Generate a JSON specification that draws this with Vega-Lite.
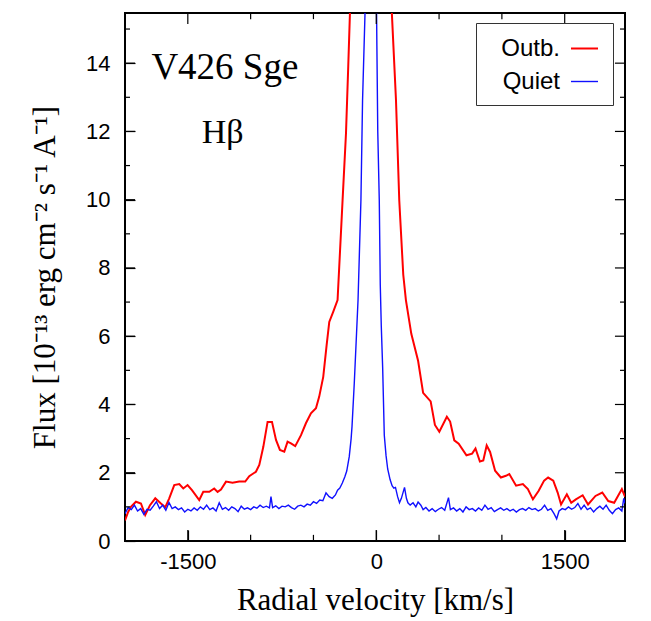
{
  "$schema": "https://vega.github.io/schema/vega-lite/v6.json",
  "width": 500,
  "height": 528,
  "autosize": "none",
  "padding": {"left": 125, "top": 13, "right": 26, "bottom": 80},
  "background": "white",
  "config": {
    "view": {"stroke": "black", "strokeWidth": 2, "fill": null},
    "axis": {"domain": false, "grid": false, "zindex": 1, "tickColor": "black", "tickWidth": 1.2, "labelColor": "black", "titleColor": "black"}
  },
  "datasets": {
    "spec": [
      {"s": "Outb.", "v": -2000, "f": 0.60}, {"s": "Outb.", "v": -1975, "f": 0.85}, {"s": "Outb.", "v": -1953, "f": 1.00},
      {"s": "Outb.", "v": -1913, "f": 1.15}, {"s": "Outb.", "v": -1873, "f": 1.10}, {"s": "Outb.", "v": -1839, "f": 0.76},
      {"s": "Outb.", "v": -1801, "f": 1.05}, {"s": "Outb.", "v": -1759, "f": 1.25}, {"s": "Outb.", "v": -1714, "f": 1.10},
      {"s": "Outb.", "v": -1679, "f": 0.99}, {"s": "Outb.", "v": -1648, "f": 1.25}, {"s": "Outb.", "v": -1608, "f": 1.64},
      {"s": "Outb.", "v": -1568, "f": 1.67}, {"s": "Outb.", "v": -1536, "f": 1.54}, {"s": "Outb.", "v": -1502, "f": 1.64},
      {"s": "Outb.", "v": -1467, "f": 1.49}, {"s": "Outb.", "v": -1409, "f": 1.20}, {"s": "Outb.", "v": -1377, "f": 1.44},
      {"s": "Outb.", "v": -1329, "f": 1.44}, {"s": "Outb.", "v": -1290, "f": 1.54}, {"s": "Outb.", "v": -1263, "f": 1.44},
      {"s": "Outb.", "v": -1236, "f": 1.51}, {"s": "Outb.", "v": -1196, "f": 1.74}, {"s": "Outb.", "v": -1144, "f": 1.71},
      {"s": "Outb.", "v": -1091, "f": 1.74}, {"s": "Outb.", "v": -1043, "f": 1.74}, {"s": "Outb.", "v": -1011, "f": 1.90},
      {"s": "Outb.", "v": -958, "f": 2.03}, {"s": "Outb.", "v": -931, "f": 2.23}, {"s": "Outb.", "v": -899, "f": 2.76},
      {"s": "Outb.", "v": -865, "f": 3.49}, {"s": "Outb.", "v": -830, "f": 3.49}, {"s": "Outb.", "v": -798, "f": 2.96},
      {"s": "Outb.", "v": -767, "f": 2.67}, {"s": "Outb.", "v": -732, "f": 2.62}, {"s": "Outb.", "v": -706, "f": 2.91},
      {"s": "Outb.", "v": -679, "f": 2.86}, {"s": "Outb.", "v": -645, "f": 2.78}, {"s": "Outb.", "v": -599, "f": 3.10},
      {"s": "Outb.", "v": -560, "f": 3.45}, {"s": "Outb.", "v": -520, "f": 3.74}, {"s": "Outb.", "v": -480, "f": 3.89},
      {"s": "Outb.", "v": -454, "f": 4.23}, {"s": "Outb.", "v": -422, "f": 4.81}, {"s": "Outb.", "v": -395, "f": 5.74},
      {"s": "Outb.", "v": -374, "f": 6.42}, {"s": "Outb.", "v": -342, "f": 6.72}, {"s": "Outb.", "v": -308, "f": 7.06},
      {"s": "Outb.", "v": -268, "f": 9.99}, {"s": "Outb.", "v": -241, "f": 11.94}, {"s": "Outb.", "v": -223, "f": 13.9},
      {"s": "Outb.", "v": -210, "f": 15.4}, {"s": "Outb.", "v": -190, "f": 17.5}, {"s": "Outb.", "v": -150, "f": 21},
      {"s": "Outb.", "v": -80, "f": 26}, {"s": "Outb.", "v": -30, "f": 26}, {"s": "Outb.", "v": 40, "f": 22},
      {"s": "Outb.", "v": 100, "f": 17.5}, {"s": "Outb.", "v": 125, "f": 15.4}, {"s": "Outb.", "v": 157, "f": 12.92},
      {"s": "Outb.", "v": 183, "f": 9.99}, {"s": "Outb.", "v": 215, "f": 7.8}, {"s": "Outb.", "v": 236, "f": 7.06},
      {"s": "Outb.", "v": 279, "f": 6.07}, {"s": "Outb.", "v": 333, "f": 5.28}, {"s": "Outb.", "v": 373, "f": 4.34},
      {"s": "Outb.", "v": 433, "f": 4.09}, {"s": "Outb.", "v": 467, "f": 3.40}, {"s": "Outb.", "v": 502, "f": 3.20},
      {"s": "Outb.", "v": 562, "f": 3.64}, {"s": "Outb.", "v": 588, "f": 3.50}, {"s": "Outb.", "v": 621, "f": 2.95},
      {"s": "Outb.", "v": 656, "f": 2.85}, {"s": "Outb.", "v": 718, "f": 2.51}, {"s": "Outb.", "v": 763, "f": 2.56},
      {"s": "Outb.", "v": 790, "f": 2.71}, {"s": "Outb.", "v": 825, "f": 2.33}, {"s": "Outb.", "v": 852, "f": 2.36},
      {"s": "Outb.", "v": 879, "f": 2.80}, {"s": "Outb.", "v": 906, "f": 2.61}, {"s": "Outb.", "v": 946, "f": 2.06},
      {"s": "Outb.", "v": 992, "f": 1.86}, {"s": "Outb.", "v": 1032, "f": 1.91}, {"s": "Outb.", "v": 1059, "f": 1.96},
      {"s": "Outb.", "v": 1113, "f": 1.62}, {"s": "Outb.", "v": 1167, "f": 1.67}, {"s": "Outb.", "v": 1207, "f": 1.52},
      {"s": "Outb.", "v": 1247, "f": 1.22}, {"s": "Outb.", "v": 1293, "f": 1.47}, {"s": "Outb.", "v": 1336, "f": 1.77},
      {"s": "Outb.", "v": 1368, "f": 1.86}, {"s": "Outb.", "v": 1409, "f": 1.77}, {"s": "Outb.", "v": 1444, "f": 1.42},
      {"s": "Outb.", "v": 1471, "f": 1.07}, {"s": "Outb.", "v": 1517, "f": 1.37}, {"s": "Outb.", "v": 1552, "f": 1.12},
      {"s": "Outb.", "v": 1589, "f": 1.22}, {"s": "Outb.", "v": 1643, "f": 1.34}, {"s": "Outb.", "v": 1686, "f": 1.07},
      {"s": "Outb.", "v": 1745, "f": 1.32}, {"s": "Outb.", "v": 1799, "f": 1.42}, {"s": "Outb.", "v": 1847, "f": 1.17},
      {"s": "Outb.", "v": 1894, "f": 1.12}, {"s": "Outb.", "v": 1955, "f": 1.52}, {"s": "Outb.", "v": 1980, "f": 1.30},

      {"s": "Quiet", "v": -2000, "f": 0.80}, {"s": "Quiet", "v": -1975, "f": 0.98}, {"s": "Quiet", "v": -1950, "f": 0.92},
      {"s": "Quiet", "v": -1925, "f": 1.05}, {"s": "Quiet", "v": -1900, "f": 0.88}, {"s": "Quiet", "v": -1875, "f": 0.95},
      {"s": "Quiet", "v": -1850, "f": 0.78}, {"s": "Quiet", "v": -1825, "f": 0.93}, {"s": "Quiet", "v": -1800, "f": 0.90},
      {"s": "Quiet", "v": -1775, "f": 1.02}, {"s": "Quiet", "v": -1750, "f": 1.15}, {"s": "Quiet", "v": -1725, "f": 0.95},
      {"s": "Quiet", "v": -1700, "f": 1.05}, {"s": "Quiet", "v": -1675, "f": 0.90}, {"s": "Quiet", "v": -1650, "f": 1.13},
      {"s": "Quiet", "v": -1625, "f": 0.95}, {"s": "Quiet", "v": -1600, "f": 1.00}, {"s": "Quiet", "v": -1575, "f": 0.92},
      {"s": "Quiet", "v": -1550, "f": 0.97}, {"s": "Quiet", "v": -1525, "f": 0.85}, {"s": "Quiet", "v": -1500, "f": 0.93},
      {"s": "Quiet", "v": -1475, "f": 0.88}, {"s": "Quiet", "v": -1450, "f": 0.97}, {"s": "Quiet", "v": -1425, "f": 0.90},
      {"s": "Quiet", "v": -1400, "f": 1.00}, {"s": "Quiet", "v": -1375, "f": 0.93}, {"s": "Quiet", "v": -1350, "f": 1.05},
      {"s": "Quiet", "v": -1325, "f": 0.92}, {"s": "Quiet", "v": -1300, "f": 0.97}, {"s": "Quiet", "v": -1275, "f": 0.88},
      {"s": "Quiet", "v": -1250, "f": 1.12}, {"s": "Quiet", "v": -1225, "f": 0.93}, {"s": "Quiet", "v": -1200, "f": 0.98},
      {"s": "Quiet", "v": -1175, "f": 0.90}, {"s": "Quiet", "v": -1150, "f": 1.00}, {"s": "Quiet", "v": -1125, "f": 0.95},
      {"s": "Quiet", "v": -1100, "f": 0.86}, {"s": "Quiet", "v": -1075, "f": 1.02}, {"s": "Quiet", "v": -1050, "f": 0.93},
      {"s": "Quiet", "v": -1025, "f": 0.97}, {"s": "Quiet", "v": -1000, "f": 0.92}, {"s": "Quiet", "v": -975, "f": 1.00},
      {"s": "Quiet", "v": -950, "f": 0.96}, {"s": "Quiet", "v": -925, "f": 1.05}, {"s": "Quiet", "v": -900, "f": 0.98},
      {"s": "Quiet", "v": -875, "f": 1.02}, {"s": "Quiet", "v": -850, "f": 0.97}, {"s": "Quiet", "v": -838, "f": 1.30},
      {"s": "Quiet", "v": -825, "f": 0.98}, {"s": "Quiet", "v": -800, "f": 1.03}, {"s": "Quiet", "v": -775, "f": 0.95},
      {"s": "Quiet", "v": -750, "f": 1.02}, {"s": "Quiet", "v": -725, "f": 1.00}, {"s": "Quiet", "v": -700, "f": 1.05},
      {"s": "Quiet", "v": -675, "f": 0.98}, {"s": "Quiet", "v": -650, "f": 0.93}, {"s": "Quiet", "v": -625, "f": 1.02},
      {"s": "Quiet", "v": -600, "f": 1.05}, {"s": "Quiet", "v": -575, "f": 1.00}, {"s": "Quiet", "v": -550, "f": 1.08},
      {"s": "Quiet", "v": -525, "f": 1.05}, {"s": "Quiet", "v": -500, "f": 1.15}, {"s": "Quiet", "v": -475, "f": 1.10},
      {"s": "Quiet", "v": -450, "f": 1.20}, {"s": "Quiet", "v": -425, "f": 1.18}, {"s": "Quiet", "v": -400, "f": 1.41},
      {"s": "Quiet", "v": -375, "f": 1.30}, {"s": "Quiet", "v": -350, "f": 1.25}, {"s": "Quiet", "v": -325, "f": 1.35},
      {"s": "Quiet", "v": -308, "f": 1.49}, {"s": "Quiet", "v": -290, "f": 1.55}, {"s": "Quiet", "v": -270, "f": 1.70},
      {"s": "Quiet", "v": -250, "f": 1.88}, {"s": "Quiet", "v": -235, "f": 2.05}, {"s": "Quiet", "v": -215, "f": 2.47},
      {"s": "Quiet", "v": -200, "f": 3.0}, {"s": "Quiet", "v": -193, "f": 3.35}, {"s": "Quiet", "v": -175, "f": 4.62},
      {"s": "Quiet", "v": -157, "f": 6.08}, {"s": "Quiet", "v": -145, "f": 7.06}, {"s": "Quiet", "v": -122, "f": 9.99},
      {"s": "Quiet", "v": -109, "f": 12.92}, {"s": "Quiet", "v": -90, "f": 15.4}, {"s": "Quiet", "v": -70, "f": 19},
      {"s": "Quiet", "v": -45, "f": 24}, {"s": "Quiet", "v": -20, "f": 20}, {"s": "Quiet", "v": 0, "f": 16.5},
      {"s": "Quiet", "v": 5, "f": 14.5}, {"s": "Quiet", "v": 12, "f": 12.0}, {"s": "Quiet", "v": 24, "f": 9.99},
      {"s": "Quiet", "v": 32, "f": 7.5}, {"s": "Quiet", "v": 40, "f": 6.3}, {"s": "Quiet", "v": 51, "f": 5.08},
      {"s": "Quiet", "v": 64, "f": 3.10}, {"s": "Quiet", "v": 78, "f": 2.5}, {"s": "Quiet", "v": 91, "f": 2.11},
      {"s": "Quiet", "v": 110, "f": 1.80}, {"s": "Quiet", "v": 126, "f": 1.62}, {"s": "Quiet", "v": 140, "f": 1.55},
      {"s": "Quiet", "v": 153, "f": 1.57}, {"s": "Quiet", "v": 170, "f": 1.30}, {"s": "Quiet", "v": 185, "f": 1.12},
      {"s": "Quiet", "v": 200, "f": 1.25}, {"s": "Quiet", "v": 225, "f": 1.57}, {"s": "Quiet", "v": 240, "f": 1.25},
      {"s": "Quiet", "v": 252, "f": 1.12}, {"s": "Quiet", "v": 270, "f": 1.05}, {"s": "Quiet", "v": 293, "f": 1.12},
      {"s": "Quiet", "v": 315, "f": 1.00}, {"s": "Quiet", "v": 333, "f": 1.14}, {"s": "Quiet", "v": 355, "f": 1.05},
      {"s": "Quiet", "v": 373, "f": 0.92}, {"s": "Quiet", "v": 395, "f": 0.98}, {"s": "Quiet", "v": 420, "f": 0.88},
      {"s": "Quiet", "v": 445, "f": 0.95}, {"s": "Quiet", "v": 470, "f": 0.86}, {"s": "Quiet", "v": 495, "f": 0.93},
      {"s": "Quiet", "v": 520, "f": 0.98}, {"s": "Quiet", "v": 545, "f": 0.90}, {"s": "Quiet", "v": 575, "f": 1.27},
      {"s": "Quiet", "v": 590, "f": 0.92}, {"s": "Quiet", "v": 615, "f": 0.97}, {"s": "Quiet", "v": 640, "f": 0.88},
      {"s": "Quiet", "v": 665, "f": 0.95}, {"s": "Quiet", "v": 690, "f": 0.85}, {"s": "Quiet", "v": 715, "f": 1.00},
      {"s": "Quiet", "v": 740, "f": 0.92}, {"s": "Quiet", "v": 765, "f": 0.95}, {"s": "Quiet", "v": 790, "f": 0.88},
      {"s": "Quiet", "v": 815, "f": 0.97}, {"s": "Quiet", "v": 840, "f": 0.90}, {"s": "Quiet", "v": 865, "f": 1.05},
      {"s": "Quiet", "v": 890, "f": 0.93}, {"s": "Quiet", "v": 915, "f": 0.98}, {"s": "Quiet", "v": 940, "f": 0.86},
      {"s": "Quiet", "v": 965, "f": 0.92}, {"s": "Quiet", "v": 990, "f": 0.97}, {"s": "Quiet", "v": 1015, "f": 0.90},
      {"s": "Quiet", "v": 1040, "f": 0.95}, {"s": "Quiet", "v": 1065, "f": 0.88}, {"s": "Quiet", "v": 1090, "f": 0.93},
      {"s": "Quiet", "v": 1115, "f": 0.85}, {"s": "Quiet", "v": 1140, "f": 0.92}, {"s": "Quiet", "v": 1165, "f": 0.95},
      {"s": "Quiet", "v": 1190, "f": 0.90}, {"s": "Quiet", "v": 1215, "f": 0.98}, {"s": "Quiet", "v": 1240, "f": 0.92},
      {"s": "Quiet", "v": 1265, "f": 0.95}, {"s": "Quiet", "v": 1290, "f": 0.88}, {"s": "Quiet", "v": 1315, "f": 0.93},
      {"s": "Quiet", "v": 1340, "f": 1.05}, {"s": "Quiet", "v": 1365, "f": 0.90}, {"s": "Quiet", "v": 1390, "f": 0.95},
      {"s": "Quiet", "v": 1415, "f": 0.80}, {"s": "Quiet", "v": 1436, "f": 0.65}, {"s": "Quiet", "v": 1455, "f": 0.88},
      {"s": "Quiet", "v": 1480, "f": 0.95}, {"s": "Quiet", "v": 1505, "f": 0.92}, {"s": "Quiet", "v": 1530, "f": 1.00},
      {"s": "Quiet", "v": 1555, "f": 0.93}, {"s": "Quiet", "v": 1580, "f": 0.98}, {"s": "Quiet", "v": 1605, "f": 1.10},
      {"s": "Quiet", "v": 1630, "f": 0.93}, {"s": "Quiet", "v": 1655, "f": 1.05}, {"s": "Quiet", "v": 1680, "f": 0.92},
      {"s": "Quiet", "v": 1705, "f": 0.97}, {"s": "Quiet", "v": 1730, "f": 0.85}, {"s": "Quiet", "v": 1755, "f": 0.95},
      {"s": "Quiet", "v": 1780, "f": 1.02}, {"s": "Quiet", "v": 1805, "f": 0.93}, {"s": "Quiet", "v": 1830, "f": 1.05},
      {"s": "Quiet", "v": 1855, "f": 0.90}, {"s": "Quiet", "v": 1880, "f": 0.80}, {"s": "Quiet", "v": 1905, "f": 0.92},
      {"s": "Quiet", "v": 1930, "f": 0.97}, {"s": "Quiet", "v": 1955, "f": 0.88}, {"s": "Quiet", "v": 1970, "f": 1.25},
      {"s": "Quiet", "v": 1980, "f": 1.10}
    ],
    "labels": [
      {"t": "V426 Sge", "v": -1790, "f": 13.55},
      {"t": "Hβ", "v": -1390, "f": 11.66}
    ],
    "xticks": [
      {"v": -1500, "k": "major"}, {"v": -1000, "k": "minor"}, {"v": -500, "k": "minor"}, {"v": 0, "k": "major"},
      {"v": 500, "k": "minor"}, {"v": 1000, "k": "minor"}, {"v": 1500, "k": "major"}
    ],
    "yticks": [
      {"f": 1, "k": "minor"}, {"f": 2, "k": "major"}, {"f": 3, "k": "minor"}, {"f": 4, "k": "major"},
      {"f": 5, "k": "minor"}, {"f": 6, "k": "major"}, {"f": 7, "k": "minor"}, {"f": 8, "k": "major"},
      {"f": 9, "k": "minor"}, {"f": 10, "k": "major"}, {"f": 11, "k": "minor"}, {"f": 12, "k": "major"},
      {"f": 13, "k": "minor"}, {"f": 14, "k": "major"}, {"f": 15, "k": "minor"}
    ]
  },
  "resolve": {"axis": {"x": "independent", "y": "independent"}},
  "layer": [
    {
      "data": {"name": "spec"},
      "mark": {"type": "line", "clip": true, "interpolate": "linear"},
      "encoding": {
        "x": {
          "field": "v", "type": "quantitative",
          "scale": {"domain": [-2000, 1980], "nice": false, "zero": false},
          "axis": {
            "orient": "bottom",
            "values": [-1500, 0, 1500],
            "labelExpr": "'' + datum.value",
            "tickSize": 11,
            "offset": -11,
            "labelPadding": 10,
            "labelFont": "Liberation Sans", "labelFontSize": 22,
            "labelFlush": false,
            "title": "Radial velocity [km/s]",
            "titleFont": "Liberation Serif", "titleFontSize": 31, "titleFontWeight": "normal",
            "titlePadding": 13
          }
        },
        "y": {
          "field": "f", "type": "quantitative",
          "scale": {"domain": [0, 15.47], "nice": false, "zero": false},
          "axis": {
            "orient": "left",
            "values": [0, 2, 4, 6, 8, 10, 12, 14],
            "labelExpr": "'' + datum.value",
            "tickSize": 10,
            "offset": -10,
            "labelPadding": 15,
            "labelFont": "Liberation Sans", "labelFontSize": 22,
            "labelFlush": false,
            "title": "Flux [10⁻¹³ erg cm⁻² s⁻¹ A⁻¹]",
            "titleFont": "Liberation Serif", "titleFontSize": 31, "titleFontWeight": "normal",
            "titlePadding": 24
          }
        },
        "color": {
          "field": "s", "type": "nominal",
          "scale": {"domain": ["Outb.", "Quiet"], "range": ["#ff0000", "#1010ff"]},
          "legend": {
            "title": null,
            "orient": "none",
            "legendX": 351,
            "legendY": 10,
            "strokeColor": "#333333",
            "fillColor": "white",
            "padding": 11,
            "symbolType": "stroke",
            "symbolSize": 729,
            "symbolStrokeWidth": 2,
            "symbolOffset": 83,
            "labelFont": "Liberation Sans",
            "labelFontSize": 24,
            "labelColor": "black",
            "labelAlign": "right",
            "labelOffset": -39,
            "rowPadding": 6
          }
        },
        "strokeWidth": {
          "field": "s", "type": "nominal",
          "scale": {"domain": ["Outb.", "Quiet"], "range": [2, 1.4]},
          "legend": null
        }
      }
    },
    {
      "data": {"name": "xticks"},
      "transform": [{"filter": "datum.k == 'major'"}],
      "mark": {"type": "rule", "color": "black", "strokeWidth": 1.2},
      "encoding": {
        "x": {"field": "v", "type": "quantitative", "axis": null},
        "y": {"datum": 0, "type": "quantitative", "axis": null},
        "y2": {"datum": 0.32}
      }
    },
    {
      "data": {"name": "xticks"},
      "transform": [{"filter": "datum.k == 'minor'"}],
      "mark": {"type": "rule", "color": "black", "strokeWidth": 1.2},
      "encoding": {
        "x": {"field": "v", "type": "quantitative", "axis": null},
        "y": {"datum": 0, "type": "quantitative", "axis": null},
        "y2": {"datum": 0.18}
      }
    },
    {
      "data": {"name": "xticks"},
      "transform": [{"filter": "datum.k == 'major'"}],
      "mark": {"type": "rule", "color": "black", "strokeWidth": 1.2},
      "encoding": {
        "x": {"field": "v", "type": "quantitative", "axis": null},
        "y": {"datum": 15.47, "type": "quantitative", "axis": null},
        "y2": {"datum": 15.15}
      }
    },
    {
      "data": {"name": "xticks"},
      "transform": [{"filter": "datum.k == 'minor'"}],
      "mark": {"type": "rule", "color": "black", "strokeWidth": 1.2},
      "encoding": {
        "x": {"field": "v", "type": "quantitative", "axis": null},
        "y": {"datum": 15.47, "type": "quantitative", "axis": null},
        "y2": {"datum": 15.29}
      }
    },
    {
      "data": {"name": "yticks"},
      "transform": [{"filter": "datum.k == 'major'"}],
      "mark": {"type": "rule", "color": "black", "strokeWidth": 1.2},
      "encoding": {
        "y": {"field": "f", "type": "quantitative", "axis": null},
        "x": {"datum": -2000, "type": "quantitative", "axis": null},
        "x2": {"datum": -1920}
      }
    },
    {
      "data": {"name": "yticks"},
      "transform": [{"filter": "datum.k == 'minor'"}],
      "mark": {"type": "rule", "color": "black", "strokeWidth": 1.2},
      "encoding": {
        "y": {"field": "f", "type": "quantitative", "axis": null},
        "x": {"datum": -2000, "type": "quantitative", "axis": null},
        "x2": {"datum": -1960}
      }
    },
    {
      "data": {"name": "yticks"},
      "transform": [{"filter": "datum.k == 'major'"}],
      "mark": {"type": "rule", "color": "black", "strokeWidth": 1.2},
      "encoding": {
        "y": {"field": "f", "type": "quantitative", "axis": null},
        "x": {"datum": 1980, "type": "quantitative", "axis": null},
        "x2": {"datum": 1900}
      }
    },
    {
      "data": {"name": "yticks"},
      "transform": [{"filter": "datum.k == 'minor'"}],
      "mark": {"type": "rule", "color": "black", "strokeWidth": 1.2},
      "encoding": {
        "y": {"field": "f", "type": "quantitative", "axis": null},
        "x": {"datum": 1980, "type": "quantitative", "axis": null},
        "x2": {"datum": 1940}
      }
    },
    {
      "data": {"name": "labels"},
      "mark": {"type": "text", "font": "Liberation Serif", "align": "left", "baseline": "alphabetic", "color": "black"},
      "encoding": {
        "x": {"field": "v", "type": "quantitative", "axis": null},
        "y": {"field": "f", "type": "quantitative", "axis": null},
        "text": {"field": "t", "type": "nominal"},
        "size": {"field": "t", "type": "nominal", "scale": {"domain": ["V426 Sge", "Hβ"], "range": [37, 34]}, "legend": null}
      }
    }
  ]
}
